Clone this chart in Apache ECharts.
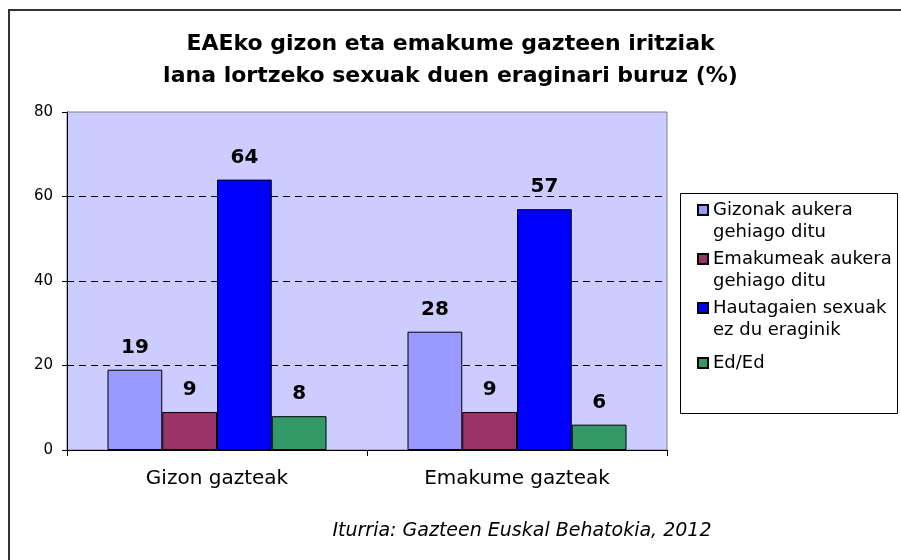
<!DOCTYPE html>
<html>
<head>
<meta charset="utf-8">
<title>EAEko gizon eta emakume gazteen iritziak</title>
<script src="https://cdn.jsdelivr.net/npm/echarts@6/dist/echarts.min.js"></script>
<style>
  html, body { margin: 0; padding: 0; background: #fff; }
  #main { width: 901px; height: 560px; }
</style>
</head>
<body>
<div id="main"></div>
<script>
// data
var categories = ["Gizon gazteak", "Emakume gazteak"];
var seriesNames = [
  "Gizonak aukera\ngehiago ditu",
  "Emakumeak aukera\ngehiago ditu",
  "Hautagaien sexuak\nez du eraginik",
  "Ed/Ed"
];
var gizonakAukera = [19, 28];
var emakumeakAukera = [9, 9];
var ezDuEraginik = [64, 57];
var edEd = [8, 6];
var yMin = 0, yMax = 80, yStep = 20;

var colors = ["#9999ff", "#993366", "#0000ff", "#339966"];
var font = "DejaVu Sans, Verdana, sans-serif";

// legend icon: square on the first text line (extra M points fix the box size)
var iconTop = "path://M0,0L10,0L10,10L0,10Z M0,32";
var iconMid = "path://M0,0 M0,11L10,11L10,21L0,21Z M0,32";

function makeSeries(name, values, color) {
  return {
    name: name,
    type: "bar",
    data: values,
    barGap: "0%",
    barCategoryGap: "27%",
    itemStyle: { color: color, borderColor: "#000", borderWidth: 1 },
    label: {
      show: true,
      position: "top",
      distance: 12,
      color: "#000",
      fontFamily: font,
      fontWeight: "bold",
      fontSize: 20
    },
    emphasis: { disabled: true }
  };
}

var myChart = echarts.init(document.getElementById("main"));
myChart.setOption({
  animation: false,
  backgroundColor: "#fff",
  title: {
    text: "EAEko gizon eta emakume gazteen iritziak\nlana lortzeko sexuak duen eraginari buruz (%)",
    left: "center",
    top: 28,
    padding: 0,
    textStyle: {
      fontFamily: font,
      fontWeight: "bold",
      fontSize: 22,
      lineHeight: 32,
      color: "#000"
    }
  },
  legend: {
    orient: "vertical",
    left: 697,
    top: 199,
    padding: 0,
    itemGap: 5,
    itemWidth: 10,
    itemHeight: 32,
    selectedMode: false,
    textStyle: { fontFamily: font, fontSize: 18, lineHeight: 22, color: "#000" },
    data: [
      { name: seriesNames[0], icon: iconTop },
      { name: seriesNames[1], icon: iconTop },
      { name: seriesNames[2], icon: iconTop },
      { name: seriesNames[3], icon: iconMid }
    ]
  },
  grid: {
    left: 67,
    right: 234,
    top: 112,
    bottom: 110,
    show: true,
    backgroundColor: "#ccccff",
    borderColor: "#808080",
    borderWidth: 1
  },
  xAxis: {
    type: "category",
    data: categories,
    axisLine: { lineStyle: { color: "#000", width: 1 } },
    axisTick: { show: true, length: 6, lineStyle: { color: "#000" } },
    axisLabel: { color: "#000", fontFamily: font, fontSize: 20, margin: 19 }
  },
  yAxis: {
    type: "value",
    min: yMin,
    max: yMax,
    interval: yStep,
    axisLine: { show: true, lineStyle: { color: "#000", width: 1 } },
    axisTick: { show: true, length: 5, lineStyle: { color: "#000" } },
    axisLabel: { color: "#000", fontFamily: font, fontSize: 15, margin: 14 },
    splitLine: {
      show: true,
      showMinLine: false,
      showMaxLine: false,
      lineStyle: { color: "#000", type: [7, 5], width: 1 }
    }
  },
  graphic: [
    {
      type: "rect",
      shape: { x: 9, y: 10, width: 1000, height: 1000 },
      style: { fill: null, stroke: "#333", lineWidth: 2 },
      silent: true
    },
    {
      type: "rect",
      shape: { x: 680.5, y: 193.5, width: 217, height: 220 },
      style: { fill: "#fff", stroke: "#000", lineWidth: 1 },
      silent: true
    },
    {
      type: "text",
      x: 522,
      y: 531,
      style: {
        text: "Iturria: Gazteen Euskal Behatokia, 2012",
        fontFamily: font,
        fontStyle: "italic",
        fontSize: 19,
        fill: "#000",
        align: "center",
        verticalAlign: "middle"
      },
      silent: true
    }
  ],
  series: [
    makeSeries(seriesNames[0], gizonakAukera, colors[0]),
    makeSeries(seriesNames[1], emakumeakAukera, colors[1]),
    makeSeries(seriesNames[2], ezDuEraginik, colors[2]),
    makeSeries(seriesNames[3], edEd, colors[3])
  ]
});
</script>
</body>
</html>
